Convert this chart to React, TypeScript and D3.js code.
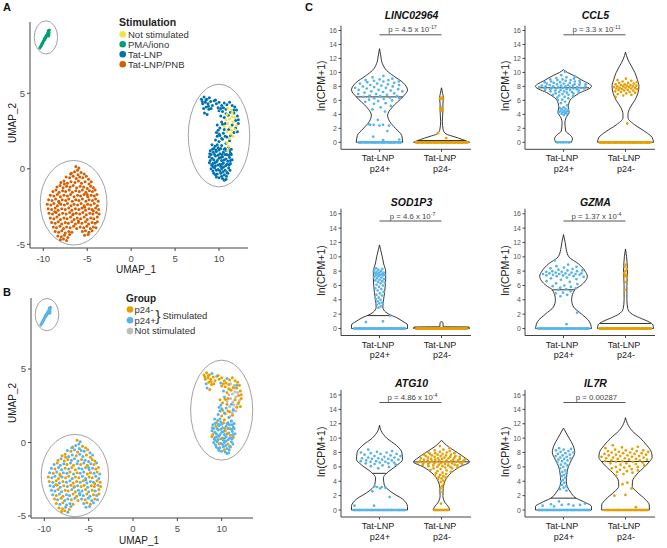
import React from "react";
import * as d3 from "d3";

const FONT = "'Liberation Sans', Arial, Helvetica, sans-serif";

// ---------------- Panels A / B : UMAP ----------------
const stimulationLevels = ["Not stimulated", "PMA/iono", "Tat-LNP", "Tat-LNP/PNB"];
const stimulationColors = ["#F0E442", "#009E73", "#0072B2", "#D55E00"];
const groupLevels = ["p24-", "p24+", "Not stimulated"];
const groupColors = ["#E69F00", "#56B4E9", "#BEBEBE"];
const umapXTicks = [-10, -5, 0, 5, 10];
const umapYTicks = [-5, 0, 5];

// PMA/iono cells (all p24+ in panel B)
const pmaCells =
  "-10.4,8.0 -10.3,8.1 -10.2,8.2 -10.15,8.3 -10.05,8.35 -10.0,8.45 -9.95,8.5 -9.9,8.6 -9.85,8.55 -9.8,8.7 -9.7,8.75 -9.65,8.85 -9.55,8.9 -9.5,9.0 -9.45,8.95 -9.4,9.1 -9.35,9.05 -9.3,9.2 -9.45,9.15 -9.6,8.8 -9.75,8.65 -9.35,8.9 -9.4,8.8 -10.1,8.3 -10.25,8.15";

// Tat-LNP/PNB cells
const pnbCells =
  "-6.3,0.15 -5.95,0.05 -6.1,-0.1 " +
  "-6.8,-0.3 -6.45,-0.2 -5.7,-0.25 -5.35,-0.35 -6.05,-0.4 " +
  "-7.4,-0.55 -7.0,-0.6 -6.6,-0.5 -6.25,-0.65 -5.85,-0.55 -5.5,-0.6 -5.1,-0.5 -4.85,-0.7 " +
  "-8.0,-0.9 -7.65,-0.8 -7.25,-0.95 -6.85,-0.85 -6.4,-0.9 -6.0,-0.8 -5.65,-0.95 -5.25,-0.85 -4.8,-1.0 -4.55,-0.85 " +
  "-8.45,-1.2 -8.1,-1.1 -7.75,-1.25 -7.35,-1.15 -6.95,-1.2 -6.6,-1.1 -6.2,-1.25 -5.8,-1.15 -5.4,-1.2 -5.0,-1.3 -4.6,-1.15 -4.3,-1.25 " +
  "-8.9,-1.5 -8.55,-1.4 -8.2,-1.55 -7.8,-1.45 -7.45,-1.5 -7.05,-1.4 -6.7,-1.55 -6.3,-1.45 -5.9,-1.5 -5.55,-1.4 -5.15,-1.55 -4.75,-1.45 -4.4,-1.5 -4.1,-1.4 " +
  "-9.2,-1.75 -8.8,-1.8 -8.4,-1.7 -8.05,-1.85 -7.65,-1.75 -7.25,-1.8 -6.9,-1.7 -6.5,-1.85 -6.1,-1.75 -5.75,-1.8 -5.35,-1.7 -4.95,-1.85 -4.55,-1.75 -4.2,-1.8 -3.9,-1.7 " +
  "-9.4,-2.05 -9.0,-2.1 -8.6,-2.0 -8.25,-2.15 -7.85,-2.05 -7.45,-2.1 -7.1,-2.0 -6.7,-2.15 -6.3,-2.05 -5.95,-2.1 -5.55,-2.0 -5.15,-2.15 -4.8,-2.05 -4.4,-2.1 -4.05,-2.0 -3.75,-2.15 " +
  "-9.55,-2.35 -9.15,-2.4 -8.8,-2.3 -8.4,-2.45 -8.0,-2.35 -7.6,-2.4 -7.25,-2.3 -6.85,-2.45 -6.5,-2.35 -6.1,-2.4 -5.7,-2.3 -5.35,-2.45 -4.95,-2.35 -4.6,-2.4 -4.2,-2.3 -3.85,-2.45 " +
  "-9.45,-2.65 -9.05,-2.7 -8.65,-2.6 -8.3,-2.75 -7.9,-2.65 -7.5,-2.7 -7.1,-2.6 -6.75,-2.75 -6.35,-2.65 -5.95,-2.7 -5.6,-2.6 -5.2,-2.75 -4.8,-2.65 -4.45,-2.7 -4.05,-2.6 -3.7,-2.7 " +
  "-9.35,-2.95 -8.95,-3.0 -8.55,-2.9 -8.2,-3.05 -7.8,-2.95 -7.4,-3.0 -7.0,-2.9 -6.65,-3.05 -6.25,-2.95 -5.85,-3.0 -5.5,-2.9 -5.1,-3.05 -4.7,-2.95 -4.35,-3.0 -3.95,-2.9 -3.65,-3.0 " +
  "-9.2,-3.25 -8.8,-3.3 -8.45,-3.2 -8.05,-3.35 -7.65,-3.25 -7.3,-3.3 -6.9,-3.2 -6.5,-3.35 -6.15,-3.25 -5.75,-3.3 -5.35,-3.2 -5.0,-3.35 -4.6,-3.25 -4.25,-3.3 -3.85,-3.2 " +
  "-9.05,-3.55 -8.65,-3.6 -8.3,-3.5 -7.9,-3.65 -7.5,-3.55 -7.15,-3.6 -6.75,-3.5 -6.35,-3.65 -6.0,-3.55 -5.6,-3.6 -5.2,-3.5 -4.85,-3.65 -4.45,-3.55 -4.1,-3.6 -3.85,-3.5 " +
  "-8.85,-3.85 -8.5,-3.9 -8.1,-3.8 -7.7,-3.95 -7.35,-3.85 -6.95,-3.9 -6.55,-3.8 -6.2,-3.95 -5.8,-3.85 -5.4,-3.9 -5.05,-3.8 -4.65,-3.95 -4.3,-3.85 -4.0,-3.9 " +
  "-8.65,-4.15 -8.25,-4.2 -7.9,-4.1 -7.5,-4.25 -7.1,-4.15 -6.75,-4.2 -5.55,-4.15 -5.2,-4.1 -4.8,-4.2 -4.45,-4.1 " +
  "-8.35,-4.45 -7.95,-4.5 -7.6,-4.4 -7.2,-4.55 -5.3,-4.4 -4.9,-4.35 " +
  "-8.05,-4.7 -7.7,-4.65 -7.35,-4.75 " +
  "-7.6,-1.0 -5.3,-2.55 -8.7,-2.85 -6.0,-3.45 -7.0,-4.35 -4.3,-2.8 -6.9,-0.35 -8.2,-2.25 -5.0,-1.7 -6.6,-3.0";
const pnbGroups =
  "obboboobbobobbob oobbobbooboboobb bobboobobbobobob obobbobboboobbob boobobobbobobboo bobobbobooboobbo obbobobobboobobb " +
  "boobbobobobboobo obobboboobobbobo bobobobboobbobob oobobbobobobbobo bobbobooboobobbo obobobbobobobobb oboobobbobobobob";

// Tat-LNP cells
const tatCells =
  "8.0,4.6 8.3,4.75 8.6,4.6 8.9,4.7 8.15,4.3 8.45,4.4 8.75,4.3 9.05,4.45 8.25,4.0 8.55,4.1 8.85,3.95 8.35,3.7 8.65,3.6 9.25,4.2 9.45,4.5 " +
  "9.7,4.3 10.0,4.4 10.3,4.2 10.6,4.35 10.9,4.25 11.2,4.4 11.5,4.2 11.8,4.1 12.0,3.9 9.9,4.05 " +
  "10.0,3.85 10.4,3.8 10.8,3.95 11.3,3.75 11.7,3.7 12.1,3.5 10.2,3.5 10.6,3.4 11.05,3.55 11.9,3.2 12.2,3.0 10.3,3.1 10.7,3.0 11.5,2.9 11.9,2.7 12.1,2.45 10.1,2.7 11.1,2.6 11.7,2.4 9.8,2.9 " +
  "9.7,2.4 10.1,2.2 10.5,2.35 10.9,2.1 11.3,2.2 9.6,1.9 10.0,1.8 10.4,1.95 10.8,1.7 11.2,1.85 9.9,2.55 10.6,2.6 " +
  "9.2,1.6 9.55,1.5 9.9,1.4 10.3,1.55 10.7,1.35 11.1,1.45 11.4,1.3 9.0,1.2 9.35,1.1 9.7,1.15 10.1,1.0 10.5,1.1 10.9,0.95 11.3,1.05 " +
  "8.9,0.8 9.2,0.7 9.6,0.85 10.0,0.7 10.4,0.8 10.8,0.65 11.2,0.75 11.5,0.6 8.9,0.4 9.3,0.35 9.7,0.45 10.1,0.3 10.5,0.4 10.9,0.3 11.3,0.35 " +
  "9.1,0.0 9.5,0.05 9.9,-0.05 10.3,0.0 10.7,-0.1 11.1,0.05 9.4,-0.3 9.8,-0.35 10.2,-0.3 10.6,-0.4 11.0,-0.3 10.0,-0.6 10.4,-0.65 10.8,-0.7 " +
  "9.4,1.35 10.0,1.25 10.6,1.3 9.1,0.95 9.8,0.55 10.3,0.55 10.7,0.95 11.0,0.5 9.3,-0.15 10.45,-0.2 9.6,0.2 10.2,0.15 11.25,-0.1 10.85,-0.5 9.0,0.55 11.4,0.95 9.7,-0.55 " +
  "9.25,1.3 9.65,1.25 10.2,1.35 10.85,1.2 11.2,1.2 9.5,0.95 9.9,0.9 10.35,0.95 11.1,0.9 9.4,0.6 10.2,0.75 10.6,0.6 11.3,0.55 9.15,0.25 9.5,0.4 " +
  "9.9,0.25 10.35,0.3 10.75,0.2 11.15,0.25 9.3,0.15 9.7,-0.1 10.1,-0.15 10.5,0.1 10.9,-0.25 9.6,-0.4 10.3,-0.5 10.6,-0.75 11.2,0.3 8.95,1.0 9.8,1.6 " +
  "8.1,4.45 8.5,4.55 8.8,4.15 9.1,4.0 9.6,4.55 10.2,4.0 10.5,4.05 10.8,3.65 11.7,3.9 12.2,3.25 10.4,2.95 10.0,2.3 10.3,2.0 10.7,2.15 9.8,2.15";
const tatGroups =
  "oooboooobooboob ooobooooob oooooobooooboooooboo bobobboobobo " +
  "bbbobbbbobbbobbbbbobbbobbbbbobbbbobbbbbobbbobbbbbbobbbbbbobb " +
  "bbobbbbobbbobbbobbbbobbbbobbbb ooooooooboobbob";

// Not stimulated cells (grey in panel B)
const notStimCells =
  "11.0,4.0 11.4,3.9 10.9,3.6 11.5,3.45 11.2,3.3 11.8,3.4 11.6,3.1 11.0,3.0 12.0,2.85 11.8,2.6 11.4,2.55 10.9,2.45 11.2,2.0 10.9,1.75 11.1,1.5 10.6,2.8 11.3,2.3 10.8,3.25 11.6,2.15 11.0,1.2 11.5,3.7 11.25,2.75";

// cluster ellipses: centre and radii (UMAP units)
const ellipseCx = [-9.7, -6.55, 10.0];
const ellipseCy = [8.7, -2.25, 2.2];
const ellipseRx = [1.33, 3.8, 3.5];
const ellipseRy = [1.1, 2.8, 3.4];

// ---------------- Panel C : violins ----------------
const genes = ["LINC02964", "CCL5", "SOD1P3", "GZMA", "ATG10", "IL7R"];
const pText = ["p = 4.5 x 10", "p = 3.3 x 10", "p = 4.6 x 10", "p = 1.37 x 10", "p = 4.86 x 10", "p = 0.00287"];
const pExponent = ["-17", "-11", "-7", "-4", "-4", ""];
const categories = ["p24+", "p24-"];
const violinYTicks = [0, 2, 4, 6, 8, 10, 12, 14, 16];

// density profiles  value:relativeWidth
const posProfiles = [
  "0:0.83 1:0.79 2:0.57 3:0.36 3.9:0.29 5:0.45 6.5:0.83 7.5:1 8.5:0.85 9.5:0.5 10.3:0.25 11.3:0.1 12.5:0.04 13.4:0",
  "0:0.28 0.5:0.32 1:0.25 1.6:0.08 2.8:0.05 3.5:0.09 4.3:0.2 5:0.17 6:0.23 7:0.55 8:1 8.9:0.66 9.6:0.35 10:0.14 10.4:0",
  "0:1 0.5:1 1:0.83 1.5:0.62 2:0.33 2.6:0.15 3:0.12 5:0.18 7:0.22 8:0.22 9:0.15 10:0.1 11:0.04 11.65:0",
  "0:1 1:0.92 2:0.65 3:0.36 4:0.29 5.4:0.4 6:0.62 7.3:0.85 8:0.77 9:0.54 10:0.19 11:0.1 12:0.06 13.1:0",
  "0:1 0.5:1 1.5:0.83 2.5:0.42 3.5:0.17 4.5:0.14 5.1:0.25 6.3:0.65 7:0.82 8:0.8 9:0.6 10:0.26 11:0.06 11.8:0",
  "0:1 0.5:1 1:0.8 1.65:0.45 2.5:0.25 3.3:0.13 4:0.1 5:0.12 6:0.17 7:0.29 8:0.4 9:0.34 10:0.2 11.4:0",
];
const negProfiles = [
  "0:1 0.4:0.75 0.8:0.45 1.2:0.16 1.8:0.06 3:0.03 4.5:0.05 5.5:0.05 6.3:0.07 7:0.04 7.8:0",
  "0:1 0.7:0.95 1.5:0.71 2.5:0.33 3.5:0.09 4:0.09 5:0.17 6:0.33 7:0.44 8:0.48 9:0.42 10:0.33 10.9:0.21 11.9:0.08 12.9:0",
  "0:1 0.2:0.98 0.25:0.06 0.85:0.05 0.95:0",
  "0:1 0.5:0.98 1:0.8 1.5:0.5 2:0.24 2.8:0.08 4:0.05 6:0.05 8:0.07 9:0.06 10:0.04 11.1:0",
  "0:0.3 0.5:0.24 1:0.13 2:0.05 3:0.06 4:0.12 5:0.3 6:0.65 6.7:1 7.2:0.86 8:0.56 9:0.18 9.7:0",
  "0:0.85 0.7:0.85 1.5:0.7 2.5:0.41 3.3:0.24 4:0.25 5:0.41 6:0.68 6.8:0.87 7.3:0.95 8:0.93 9:0.76 10:0.53 11:0.24 12:0.07 12.85:0",
];

// expressed-cell values (non-zero) and number of cells at 0
const posValues = [
  "9.5 9.3 9.1 9.0 8.9 8.9 8.8 8.7 8.7 8.6 8.5 8.4 8.4 8.3 8.2 8.2 8.1 8.0 8.0 7.9 7.8 7.8 7.7 7.6 7.5 7.5 7.4 7.3 7.3 7.2 7.1 7.0 6.9 6.9 6.8 6.7 6.6 6.6 6.5 6.4 6.3 6.3 6.2 6.1 6.0 5.9 5.8 5.6 5.5 5.2 5.0 4.7 4.4 3.2 2.6 2.5 2.5 2.4 2.4 2.5 1.6 0.8 0.4 0.3",
  "10.1 9.6 9.4 9.3 9.2 9.1 9.0 9.0 8.9 8.9 8.8 8.8 8.7 8.7 8.6 8.6 8.5 8.5 8.5 8.4 8.4 8.3 8.3 8.3 8.2 8.2 8.2 8.1 8.1 8.1 8.0 8.0 8.0 8.0 7.9 7.9 7.9 7.9 7.8 7.8 7.8 7.8 7.7 7.7 7.7 7.6 7.6 7.6 7.5 7.5 7.5 7.4 7.4 7.3 7.3 7.2 7.2 7.1 7.1 7.0 7.0 6.9 6.8 6.8 6.7 6.6 6.5 6.4 6.3 6.1 6.0 5.8 5.6 5.3 5.0 4.9 4.8 4.7 4.6 4.5 4.5 4.4 4.3 4.3 4.2 4.1 4.0 3.9",
  "8.4 8.3 8.2 8.1 8.0 7.9 7.8 7.8 7.7 7.6 7.6 7.5 7.5 7.4 7.4 7.3 7.2 7.1 7.0 6.9 6.8 6.7 6.6 6.5 6.4 6.3 6.1 6.0 5.8 5.6 5.5 5.3 5.1 4.9 4.7 4.6 4.3 4.1 4.0 3.8 3.6 3.5 3.3 3.1 2.9 1.8 1.0 0.9",
  "9.5 8.9 8.7 8.6 8.5 8.4 8.3 8.2 8.1 8.1 8.0 8.0 7.9 7.9 7.8 7.8 7.7 7.7 7.7 7.6 7.6 7.6 7.5 7.5 7.5 7.4 7.4 7.3 7.3 7.2 7.1 7.0 6.9 6.8 6.6 6.5 6.3 6.2 6.0 5.9 5.8 5.7 5.6 5.5 5.4 5.2 5.0 4.9 4.7 4.5 2.2 0.6",
  "8.4 8.2 8.1 8.0 8.0 7.9 7.8 7.8 7.7 7.6 7.5 7.5 7.4 7.3 7.3 7.2 7.2 7.1 7.1 7.0 7.0 6.9 6.9 6.8 6.8 6.7 6.7 6.6 6.6 6.5 6.5 6.4 6.3 6.2 6.1 6.0 5.8 3.3 3.2 3.2 3.1 3.0 2.6 1.8 0.6 0.6",
  "8.6 8.5 8.4 8.3 8.2 8.1 8.0 7.9 7.8 7.7 7.6 7.5 7.4 7.3 7.2 7.1 7.0 6.9 6.8 6.6 6.5 6.3 6.2 6.0 5.8 5.5 5.3 5.1 4.9 4.7 4.5 4.2 4.0 3.8 3.5 3.3 3.1 2.9 2.7 1.2 0.9 0.8 0.8 0.7 0.7 0.6 0.6 0.5",
];
const negValues = [
  "6.4 6.3 6.3 6.2 6.2 5.0 4.8 4.6 4.5 1.3 0.6",
  "9.1 8.9 8.8 8.7 8.6 8.5 8.5 8.4 8.3 8.3 8.2 8.2 8.1 8.1 8.0 8.0 8.0 7.9 7.9 7.8 7.8 7.8 7.7 7.7 7.6 7.6 7.5 7.5 7.4 7.4 7.3 7.2 7.2 7.1 7.0 6.9 6.8 6.7 6.5 2.7",
  "",
  "8.9 8.6 8.3 8.0 7.7 7.5 7.3 7.1 6.5 5.4",
  "8.9 8.6 8.4 8.3 8.2 8.1 8.0 8.0 7.9 7.9 7.8 7.8 7.7 7.7 7.7 7.6 7.6 7.5 7.5 7.5 7.4 7.4 7.4 7.3 7.3 7.3 7.2 7.2 7.2 7.1 7.1 7.1 7.0 7.0 7.0 7.0 6.9 6.9 6.9 6.9 6.8 6.8 6.8 6.8 6.7 6.7 6.7 6.7 6.6 6.6 6.6 6.6 6.5 6.5 6.5 6.5 6.4 6.4 6.4 6.3 6.3 6.3 6.2 6.2 6.2 6.1 6.1 6.0 6.0 5.9 5.9 5.8 5.8 5.7 5.6 5.5 5.4 5.3 5.2 5.1 5.0 4.9 4.8 4.7 4.6 4.5 4.4 4.3 4.1 3.9 3.6 3.3 3.0 2.5 0.9",
  "9.0 8.8 8.7 8.6 8.5 8.4 8.3 8.3 8.2 8.2 8.1 8.1 8.0 8.0 7.9 7.9 7.8 7.8 7.7 7.7 7.6 7.6 7.5 7.5 7.4 7.4 7.3 7.3 7.2 7.2 7.1 7.1 7.0 7.0 6.9 6.9 6.8 6.8 6.7 6.7 6.6 6.5 6.5 6.4 6.3 6.2 6.1 6.0 6.0 5.9 5.8 5.7 5.6 5.5 5.4 5.3 5.2 5.0 4.8 3.8 3.6 3.0 2.1 2.0 0.4",
];
const posZeroCounts = [50, 8, 70, 60, 65, 65];
const negZeroCounts = [80, 80, 90, 80, 18, 50];
const posMedians = [[6.5], [7.8], [1.8], [5.4], [5.1], [1.65]];
const negMedians = [[0.25], [], [0.15], [0.7], [6.7], [6.75]];

// ---------------- helpers ----------------
const parsePairs = (s: string) =>
  s.trim().split(/\s+/).map((t) => {
    const [x, y] = t.split(",").map(Number);
    return { x, y };
  });
const parseNums = (s: string) => (s.trim() ? s.trim().split(/\s+/).map(Number) : []);
const parseProfile = (s: string) =>
  s.trim().split(/\s+/).map((t) => t.split(":").map(Number) as [number, number]);
const groupAt = (s: string, i: number) => s.replace(/\s/g, "")[i] || "b";

type Cell = { x: number; y: number; color: string };

function UmapPanel(props: {
  xs: d3.ScaleLinear<number, number>;
  ys: d3.ScaleLinear<number, number>;
  axisX: number;
  axisY: number;
  axisTop: number;
  axisRight: number;
  cells: Cell[];
  xLabelY: number;
  yLabelY: number;
}) {
  const { xs, ys, axisX, axisY, axisTop, axisRight, cells, xLabelY, yLabelY } = props;
  return (
    <g>
      {ellipseCx.map((cx, i) => (
        <ellipse
          key={i}
          cx={xs(cx)}
          cy={ys(ellipseCy[i])}
          rx={xs(cx + ellipseRx[i]) - xs(cx)}
          ry={ys(ellipseCy[i]) - ys(ellipseCy[i] + ellipseRy[i])}
          fill="none"
          stroke="#8a8a8a"
          strokeWidth={0.8}
        />
      ))}
      {cells.map((c, i) => (
        <circle key={i} cx={xs(c.x)} cy={ys(c.y)} r={1.5} fill={c.color} />
      ))}
      <line x1={axisX} x2={axisX} y1={axisTop} y2={axisY} stroke="#444" strokeWidth={1} />
      <line x1={axisX} x2={axisRight} y1={axisY} y2={axisY} stroke="#444" strokeWidth={1} />
      {umapXTicks.map((t) => (
        <g key={t}>
          <line x1={xs(t)} x2={xs(t)} y1={axisY} y2={axisY + 3} stroke="#444" />
          <text x={xs(t)} y={axisY + 13.5} fontSize={9.5} fill="#4d4d4d" textAnchor="middle">
            {t}
          </text>
        </g>
      ))}
      {umapYTicks.map((t) => (
        <g key={t}>
          <line x1={axisX - 3} x2={axisX} y1={ys(t)} y2={ys(t)} stroke="#444" />
          <text x={axisX - 5} y={ys(t) + 3.4} fontSize={9.5} fill="#4d4d4d" textAnchor="end">
            {t}
          </text>
        </g>
      ))}
      <text x={(axisX + axisRight) / 2 - 3} y={xLabelY} fontSize={10} fill="#222" textAnchor="middle">
        UMAP_1
      </text>
      <text
        transform={`translate(15.5,${yLabelY}) rotate(-90)`}
        fontSize={10}
        fill="#222"
        textAnchor="middle"
      >
        UMAP_2
      </text>
    </g>
  );
}

const ROWS = [
  { zero: 142.3, top: 30.5 },
  { zero: 328.5, top: 213.8 },
  { zero: 510, top: 395 },
];
const COLS = [341, 525];
const MAXW = 28;

function ViolinPanel({ i }: { i: number }) {
  const row = ROWS[Math.floor(i / 2)];
  const ax = COLS[i % 2];
  const ys = d3.scaleLinear().domain([0, 16]).range([row.zero, row.top]);
  const xs = d3.scalePoint<string>().domain(categories).range([ax + 38.5, ax + 100.5]);
  const axisBottom = row.zero + 7;
  const axisTop = ys(16.7);
  const right = ax + 130;
  const mid = ((xs("p24+") as number) + (xs("p24-") as number)) / 2;

  const violins = [
    {
      cat: "p24+",
      prof: parseProfile(posProfiles[i]),
      zeros: posZeroCounts[i],
      vals: parseNums(posValues[i]),
      color: groupColors[1],
      lines: posMedians[i],
      seed: 0.13 + i * 0.07,
    },
    {
      cat: "p24-",
      prof: parseProfile(negProfiles[i]),
      zeros: negZeroCounts[i],
      vals: parseNums(negValues[i]),
      color: groupColors[0],
      lines: negMedians[i],
      seed: 0.41 + i * 0.05,
    },
  ];

  return (
    <g>
      <text
        x={mid + 1}
        y={row.zero - 123}
        fontSize={10.5}
        fontWeight="bold"
        fontStyle="italic"
        fill="#111"
        textAnchor="middle"
      >
        {genes[i]}
      </text>
      <line x1={xs("p24+")} x2={xs("p24-")} y1={row.zero - 107.5} y2={row.zero - 107.5} stroke="#555" strokeWidth={1} />
      <text x={mid + 2} y={row.zero - 110} fontSize={7.8} fill="#444" textAnchor="middle">
        {pText[i]}
        {pExponent[i] ? (
          <tspan fontSize={5.3} dy={-3}>
            {pExponent[i]}
          </tspan>
        ) : null}
      </text>
      {violins.map((v) => {
        const cx = xs(v.cat) as number;
        const sorted = [...v.prof].sort((a, b) => b[0] - a[0]);
        const area = d3
          .area<[number, number]>()
          .y((d) => ys(d[0]))
          .x0((d) => cx - d[1] * MAXW)
          .x1((d) => cx + d[1] * MAXW)
          .curve(d3.curveMonotoneY);
        const hw = d3
          .scaleLinear()
          .domain(v.prof.map((d) => d[0]))
          .range(v.prof.map((d) => d[1]))
          .clamp(true);
        const all = [...Array.from({ length: v.zeros }, () => 0), ...v.vals];
        return (
          <g key={v.cat}>
            <path d={area(sorted) || ""} fill="none" stroke="#222" strokeWidth={0.9} />
            {v.lines.map((m, k) => (
              <line
                key={k}
                x1={cx - hw(m) * MAXW}
                x2={cx + hw(m) * MAXW}
                y1={ys(m)}
                y2={ys(m)}
                stroke="#333"
                strokeWidth={1}
              />
            ))}
            {all.map((val, k) => {
              const u = ((k + 1) * 0.6180339887 + v.seed) % 1;
              const w = Math.max(hw(val) * MAXW * 0.93, 1.2);
              return <circle key={k} cx={cx + (2 * u - 1) * w} cy={ys(val)} r={1.35} fill={v.color} />;
            })}
          </g>
        );
      })}
      <line x1={ax} x2={ax} y1={axisTop} y2={axisBottom} stroke="#444" strokeWidth={1} />
      <line x1={ax} x2={right} y1={axisBottom} y2={axisBottom} stroke="#444" strokeWidth={1} />
      {violinYTicks.map((t) => (
        <g key={t}>
          <line x1={ax - 2.5} x2={ax} y1={ys(t)} y2={ys(t)} stroke="#444" />
          <text x={ax - 4} y={ys(t) + 2.5} fontSize={7} fill="#555" textAnchor="end">
            {t}
          </text>
        </g>
      ))}
      {categories.map((c) => (
        <g key={c}>
          <line x1={xs(c)} x2={xs(c)} y1={axisBottom} y2={axisBottom + 2.5} stroke="#444" />
          <text x={(xs(c) as number) - 1.5} y={row.zero + 19} fontSize={9} fill="#222" textAnchor="middle">
            Tat-LNP
          </text>
          <text x={(xs(c) as number) + 0.5} y={row.zero + 29.5} fontSize={9} fill="#222" textAnchor="middle">
            {c}
          </text>
        </g>
      ))}
      <text
        transform={`translate(${ax - 16},${ys(8.1)}) rotate(-90)`}
        fontSize={10.5}
        fill="#222"
        textAnchor="middle"
      >
        ln(CPM+1)
      </text>
    </g>
  );
}

export default function App() {
  const pma = parsePairs(pmaCells);
  const pnb = parsePairs(pnbCells);
  const tat = parsePairs(tatCells);
  const ns = parsePairs(notStimCells);

  const cellsA: Cell[] = [
    ...pnb.map((p) => ({ ...p, color: stimulationColors[3] })),
    ...pma.map((p) => ({ ...p, color: stimulationColors[1] })),
    ...tat.map((p) => ({ ...p, color: stimulationColors[2] })),
    ...ns.map((p) => ({ ...p, color: stimulationColors[0] })),
  ];
  const gcol = (g: string) => (g === "o" ? groupColors[0] : groupColors[1]);
  const cellsB: Cell[] = [
    ...pnb.map((p, i) => ({ ...p, color: gcol(groupAt(pnbGroups, i)) })),
    ...pma.map((p) => ({ ...p, color: groupColors[1] })),
    ...ns.map((p) => ({ ...p, color: groupColors[2] })),
    ...tat.map((p, i) => ({ ...p, color: gcol(groupAt(tatGroups, i)) })),
  ];

  const xA = d3.scaleLinear().domain([-10, 10]).range([43.3, 219]);
  const yA = d3.scaleLinear().domain([-5, 5]).range([244.3, 93.3]);
  const xB = d3.scaleLinear().domain([-10, 10]).range([44.3, 221.7]);
  const yB = d3.scaleLinear().domain([-5, 5]).range([516, 369]);

  return (
    <svg
      width={667}
      height={548}
      viewBox="0 0 667 548"
      style={{ position: "absolute", left: 0, top: 0 }}
      fontFamily={FONT}
    >
      <rect width={667} height={548} fill="#fff" />
      <text x={3} y={11} fontSize={11} fontWeight="bold" fill="#111">A</text>
      <text x={3} y={295.5} fontSize={11} fontWeight="bold" fill="#111">B</text>
      <text x={305} y={11} fontSize={11} fontWeight="bold" fill="#111">C</text>

      <UmapPanel xs={xA} ys={yA} axisX={30} axisY={248} axisTop={22} axisRight={248} cells={cellsA} xLabelY={273} yLabelY={123} />
      <UmapPanel xs={xB} ys={yB} axisX={31} axisY={518} axisTop={298} axisRight={253} cells={cellsB} xLabelY={544} yLabelY={403} />

      {/* legend A */}
      <text x={119} y={25.5} fontSize={10.5} fontWeight="bold" fill="#222">Stimulation</text>
      {stimulationLevels.map((s, k) => (
        <g key={s}>
          <circle cx={122.7} cy={34.3 + 10 * k} r={3.3} fill={stimulationColors[k]} />
          <text x={128} y={34.3 + 10 * k + 3.3} fontSize={9.5} fill="#333">{s}</text>
        </g>
      ))}

      {/* legend B */}
      <text x={126} y={302} fontSize={10} fontWeight="bold" fill="#222">Group</text>
      {groupLevels.map((s, k) => (
        <g key={s}>
          <circle cx={130} cy={309.5 + 10.8 * k} r={3.3} fill={groupColors[k]} />
          <text x={134.5} y={309.5 + 10.8 * k + 3.3} fontSize={9.5} fill="#333">{s}</text>
        </g>
      ))}
      <text x={155.5} y={321} fontSize={15} fill="#333">{"}"}</text>
      <text x={162.5} y={318.5} fontSize={9.5} fill="#333">Stimulated</text>

      {genes.map((g, i) => (
        <ViolinPanel key={g} i={i} />
      ))}
    </svg>
  );
}
